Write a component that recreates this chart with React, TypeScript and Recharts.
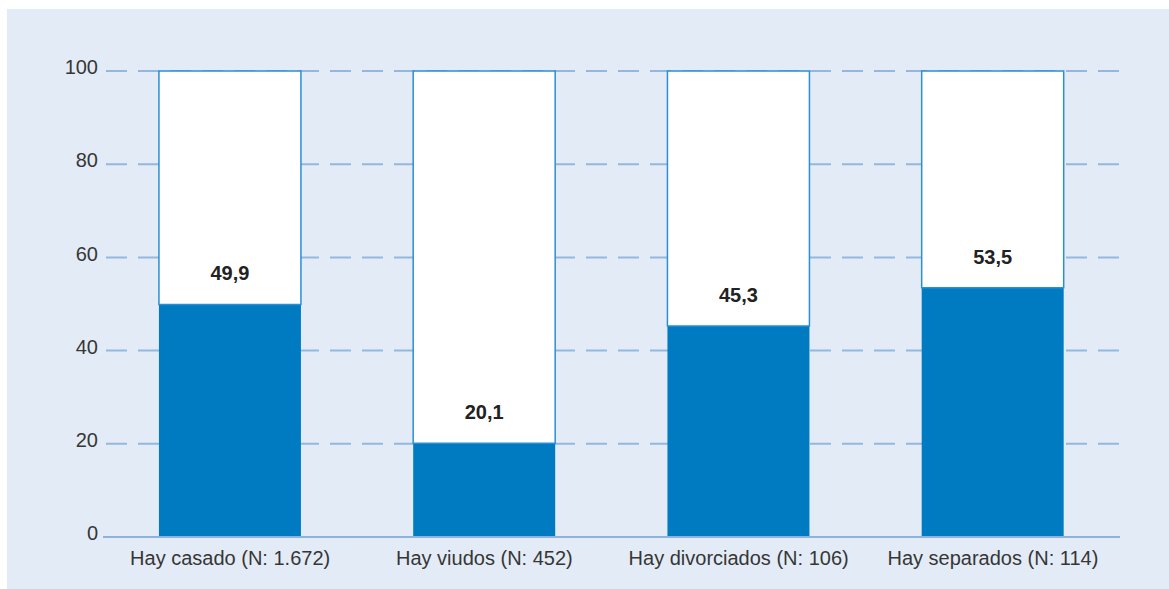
import { BarChart, Bar, XAxis, YAxis, CartesianGrid, LabelList } from "recharts";

const categories = [
  "Hay casado (N: 1.672)",
  "Hay viudos (N: 452)",
  "Hay divorciados (N: 106)",
  "Hay separados (N: 114)",
];
const values = [49.9, 20.1, 45.3, 53.5];
const yTicks = [0, 20, 40, 60, 80, 100];

const data = categories.map((name, i) => ({
  name,
  value: values[i],
  rest: +(100 - values[i]).toFixed(1),
}));

const font = "'Liberation Sans', Arial, Helvetica, sans-serif";

export default function App() {
  return (
    <div style={{ position: "absolute", left: 0, top: 0, width: 1169, height: 589, fontFamily: font }}>
      <div style={{ position: "absolute", left: 7, top: 9, right: 0, bottom: 0, background: "#e3ecf6" }} />
      <div style={{ position: "absolute", left: 0, top: 0 }}>
        <BarChart
          width={1169}
          height={589}
          data={data}
          margin={{ top: 71, right: 49, left: 0, bottom: 0 }}
          barCategoryGap="22%"
        >
          <CartesianGrid
            horizontal
            vertical={false}
            stroke="#93b7df"
            strokeWidth={2}
            strokeDasharray="0 3 21 8"
          />
          <XAxis
            dataKey="name"
            height={52}
            tickLine={false}
            axisLine={{ stroke: "#8db2dc", strokeWidth: 2 }}
            tickMargin={8}
            tick={{ fill: "#363636", fontSize: 20, fontFamily: font }}
            interval={0}
          />
          <YAxis
            domain={[0, 100]}
            ticks={yTicks}
            width={103}
            tickLine={false}
            axisLine={false}
            tickSize={3}
            tickMargin={2}
            tick={{ fill: "#363636", fontSize: 20, fontFamily: font, dy: -4 }}
          />
          <Bar dataKey="value" stackId="a" fill="#007bc2" isAnimationActive={false}>
            <LabelList
              dataKey="value"
              position="top"
              offset={24}
              formatter={(v: any) => Number(v).toFixed(1).replace(".", ",")}
              style={{ fill: "#222222", fontSize: 20, fontWeight: 700, fontFamily: font }}
            />
          </Bar>
          <Bar
            dataKey="rest"
            stackId="a"
            fill="#ffffff"
            stroke="#2a8fd4"
            strokeWidth={1.5}
            isAnimationActive={false}
          />
        </BarChart>
      </div>
    </div>
  );
}
